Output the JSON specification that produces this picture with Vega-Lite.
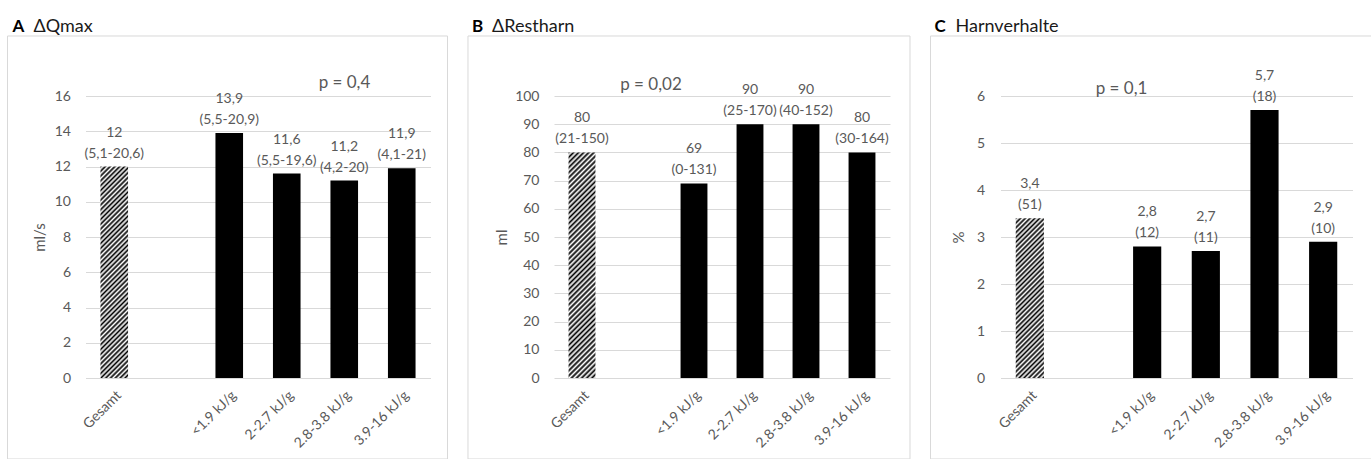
{
"$schema": "https://vega.github.io/schema/vega-lite/v6.json",
"padding": {"left": 6.5, "top": 17, "right": 0, "bottom": 0},
"spacing": 18.5,
"config": {
 "font": "Lato",
 "view": {"stroke": null},
 "axis": {"labelFont": "Lato", "titleFont": "Lato", "labelColor": "#595959", "titleColor": "#595959", "labelFontSize": 14, "titleFontSize": 15, "titleFontWeight": "normal", "domain": false, "ticks": false, "tickSize": 0, "gridColor": "#d9d9d9"}
},
"hconcat": [
{
 "width": 345, "height": 282,
 "resolve": {"scale": {"x": "independent", "y": "independent"}},
 "layer": [
  {
   "data": {"values": [{"letter": "A", "title": "ΔQmax", "p": "p = 0,4"}]},
   "layer": [
    {"mark": {"type": "rect", "fill": "transparent", "stroke": "#d9d9d9", "strokeWidth": 1},
     "encoding": {"x": {"datum": -0.2261, "type": "quantitative", "scale": {"domain": [0, 1], "nice": false, "zero": false}, "axis": null}, "x2": {"datum": 1.0493}, "y": {"datum": -0.2872, "type": "quantitative", "scale": {"domain": [0, 1], "nice": false, "zero": false}, "axis": null}, "y2": {"datum": 1.2128}}},
    {"mark": {"type": "text", "align": "left", "baseline": "alphabetic", "fontWeight": "bold", "fontSize": 17, "color": "#000"},
     "encoding": {"x": {"datum": -0.2116, "type": "quantitative"}, "y": {"datum": 1.228, "type": "quantitative"}, "text": {"field": "letter"}}},
    {"mark": {"type": "text", "align": "left", "baseline": "alphabetic", "fontSize": 18, "color": "#1a1a1a"},
     "encoding": {"x": {"datum": -0.1507, "type": "quantitative"}, "y": {"datum": 1.228, "type": "quantitative"}, "text": {"field": "title"}}},
    {"mark": {"type": "text", "align": "center", "baseline": "middle", "fontSize": 17, "color": "#595959"},
     "encoding": {"x": {"datum": 0.7507, "type": "quantitative"}, "y": {"datum": 1.046, "type": "quantitative"}, "text": {"field": "p"}}}
   ]
  },
  {
   "data": {"values": [
    {"cat": "Gesamt", "v": 12, "lab": "12\n(5,1-20,6)"},
    {"cat": "<1.9 kJ/g", "v": 13.9, "lab": "13,9\n(5,5-20,9)"},
    {"cat": "2-2.7 kJ/g", "v": 11.6, "lab": "11,6\n(5,5-19,6)"},
    {"cat": "2.8-3.8 kJ/g", "v": 11.2, "lab": "11,2\n(4,2-20)"},
    {"cat": "3.9-16 kJ/g", "v": 11.9, "lab": "11,9\n(4,1-21)"}
   ]},
   "encoding": {
    "x": {"field": "cat", "type": "nominal", "sort": null, "scale": {"domain": ["Gesamt", " ", "<1.9 kJ/g", "2-2.7 kJ/g", "2.8-3.8 kJ/g", "3.9-16 kJ/g"], "paddingInner": 0.52, "paddingOuter": 0.26}, "axis": {"orient": "bottom", "title": null, "labelAngle": -45, "grid": false, "labelPadding": 10}},
    "y": {"field": "v", "type": "quantitative", "scale": {"domain": [0, 16], "nice": false}, "axis": {"orient": "left", "values": [0, 2, 4, 6, 8, 10, 12, 14, 16], "grid": true, "title": "ml/s", "labelPadding": 15, "titlePadding": 7}}
   },
   "layer": [
    {"transform": [{"filter": "datum.cat === 'Gesamt'"}],
     "mark": {"type": "bar", "fill": {"gradient": "linear", "x1": 0, "y1": 0, "x2": 0.146, "y2": 1.12, "stops": [
{"offset":0,"color":"#000"},{"offset":0.01,"color":"#fff"},{"offset":0.02,"color":"#000"},{"offset":0.03,"color":"#fff"},{"offset":0.04,"color":"#000"},{"offset":0.05,"color":"#fff"},{"offset":0.06,"color":"#000"},{"offset":0.07,"color":"#fff"},{"offset":0.08,"color":"#000"},{"offset":0.09,"color":"#fff"},
{"offset":0.1,"color":"#000"},{"offset":0.11,"color":"#fff"},{"offset":0.12,"color":"#000"},{"offset":0.13,"color":"#fff"},{"offset":0.14,"color":"#000"},{"offset":0.15,"color":"#fff"},{"offset":0.16,"color":"#000"},{"offset":0.17,"color":"#fff"},{"offset":0.18,"color":"#000"},{"offset":0.19,"color":"#fff"},
{"offset":0.2,"color":"#000"},{"offset":0.21,"color":"#fff"},{"offset":0.22,"color":"#000"},{"offset":0.23,"color":"#fff"},{"offset":0.24,"color":"#000"},{"offset":0.25,"color":"#fff"},{"offset":0.26,"color":"#000"},{"offset":0.27,"color":"#fff"},{"offset":0.28,"color":"#000"},{"offset":0.29,"color":"#fff"},
{"offset":0.3,"color":"#000"},{"offset":0.31,"color":"#fff"},{"offset":0.32,"color":"#000"},{"offset":0.33,"color":"#fff"},{"offset":0.34,"color":"#000"},{"offset":0.35,"color":"#fff"},{"offset":0.36,"color":"#000"},{"offset":0.37,"color":"#fff"},{"offset":0.38,"color":"#000"},{"offset":0.39,"color":"#fff"},
{"offset":0.4,"color":"#000"},{"offset":0.41,"color":"#fff"},{"offset":0.42,"color":"#000"},{"offset":0.43,"color":"#fff"},{"offset":0.44,"color":"#000"},{"offset":0.45,"color":"#fff"},{"offset":0.46,"color":"#000"},{"offset":0.47,"color":"#fff"},{"offset":0.48,"color":"#000"},{"offset":0.49,"color":"#fff"},
{"offset":0.5,"color":"#000"},{"offset":0.51,"color":"#fff"},{"offset":0.52,"color":"#000"},{"offset":0.53,"color":"#fff"},{"offset":0.54,"color":"#000"},{"offset":0.55,"color":"#fff"},{"offset":0.56,"color":"#000"},{"offset":0.57,"color":"#fff"},{"offset":0.58,"color":"#000"},{"offset":0.59,"color":"#fff"},
{"offset":0.6,"color":"#000"},{"offset":0.61,"color":"#fff"},{"offset":0.62,"color":"#000"},{"offset":0.63,"color":"#fff"},{"offset":0.64,"color":"#000"},{"offset":0.65,"color":"#fff"},{"offset":0.66,"color":"#000"},{"offset":0.67,"color":"#fff"},{"offset":0.68,"color":"#000"},{"offset":0.69,"color":"#fff"},
{"offset":0.7,"color":"#000"},{"offset":0.71,"color":"#fff"},{"offset":0.72,"color":"#000"},{"offset":0.73,"color":"#fff"},{"offset":0.74,"color":"#000"},{"offset":0.75,"color":"#fff"},{"offset":0.76,"color":"#000"},{"offset":0.77,"color":"#fff"},{"offset":0.78,"color":"#000"},{"offset":0.79,"color":"#fff"},
{"offset":0.8,"color":"#000"},{"offset":0.81,"color":"#fff"},{"offset":0.82,"color":"#000"},{"offset":0.83,"color":"#fff"},{"offset":0.84,"color":"#000"},{"offset":0.85,"color":"#fff"},{"offset":0.86,"color":"#000"},{"offset":0.87,"color":"#fff"},{"offset":0.88,"color":"#000"},{"offset":0.89,"color":"#fff"},
{"offset":0.9,"color":"#000"},{"offset":0.91,"color":"#fff"},{"offset":0.92,"color":"#000"},{"offset":0.93,"color":"#fff"},{"offset":0.94,"color":"#000"},{"offset":0.95,"color":"#fff"},{"offset":0.96,"color":"#000"},{"offset":0.97,"color":"#fff"},{"offset":0.98,"color":"#000"},{"offset":0.99,"color":"#fff"},{"offset":1,"color":"#000"}
     ]}}},
    {"transform": [{"filter": "datum.cat !== 'Gesamt'"}], "mark": {"type": "bar", "color": "#000"}},
    {"mark": {"type": "text", "baseline": "bottom", "dy": -27, "lineBreak": "\n", "lineHeight": 21, "fontSize": 14, "color": "#595959"},
     "encoding": {"text": {"field": "lab"}}}
   ]
  }
 ]
},
{
 "width": 336, "height": 282,
 "resolve": {"scale": {"x": "independent", "y": "independent"}},
 "layer": [
  {
   "data": {"values": [{"letter": "B", "title": "ΔRestharn", "p": "p = 0,02"}]},
   "layer": [
    {"mark": {"type": "rect", "fill": "transparent", "stroke": "#d9d9d9", "strokeWidth": 1},
     "encoding": {"x": {"datum": -0.256, "type": "quantitative", "scale": {"domain": [0, 1], "nice": false, "zero": false}, "axis": null}, "x2": {"datum": 1.0595}, "y": {"datum": -0.2872, "type": "quantitative", "scale": {"domain": [0, 1], "nice": false, "zero": false}, "axis": null}, "y2": {"datum": 1.2128}}},
    {"mark": {"type": "text", "align": "left", "baseline": "alphabetic", "fontWeight": "bold", "fontSize": 17, "color": "#000"},
     "encoding": {"x": {"datum": -0.244, "type": "quantitative"}, "y": {"datum": 1.228, "type": "quantitative"}, "text": {"field": "letter"}}},
    {"mark": {"type": "text", "align": "left", "baseline": "alphabetic", "fontSize": 18, "color": "#1a1a1a"},
     "encoding": {"x": {"datum": -0.1845, "type": "quantitative"}, "y": {"datum": 1.228, "type": "quantitative"}, "text": {"field": "title"}}},
    {"mark": {"type": "text", "align": "center", "baseline": "middle", "fontSize": 17, "color": "#595959"},
     "encoding": {"x": {"datum": 0.2887, "type": "quantitative"}, "y": {"datum": 1.039, "type": "quantitative"}, "text": {"field": "p"}}}
   ]
  },
  {
   "data": {"values": [
    {"cat": "Gesamt", "v": 80, "lab": "80\n(21-150)"},
    {"cat": "<1.9 kJ/g", "v": 69, "lab": "69\n(0-131)"},
    {"cat": "2-2.7 kJ/g", "v": 90, "lab": "90\n(25-170)"},
    {"cat": "2.8-3.8 kJ/g", "v": 90, "lab": "90\n(40-152)"},
    {"cat": "3.9-16 kJ/g", "v": 80, "lab": "80\n(30-164)"}
   ]},
   "encoding": {
    "x": {"field": "cat", "type": "nominal", "sort": null, "scale": {"domain": ["Gesamt", " ", "<1.9 kJ/g", "2-2.7 kJ/g", "2.8-3.8 kJ/g", "3.9-16 kJ/g"], "paddingInner": 0.52, "paddingOuter": 0.26}, "axis": {"orient": "bottom", "title": null, "labelAngle": -45, "grid": false, "labelPadding": 10}},
    "y": {"field": "v", "type": "quantitative", "scale": {"domain": [0, 100], "nice": false}, "axis": {"orient": "left", "values": [0, 10, 20, 30, 40, 50, 60, 70, 80, 90, 100], "grid": true, "title": "ml", "labelPadding": 15, "titlePadding": 5}}
   },
   "layer": [
    {"transform": [{"filter": "datum.cat === 'Gesamt'"}],
     "mark": {"type": "bar", "fill": {"gradient": "linear", "x1": 0, "y1": 0, "x2": 0.132, "y2": 1.11, "stops": [
{"offset":0,"color":"#000"},{"offset":0.01,"color":"#fff"},{"offset":0.02,"color":"#000"},{"offset":0.03,"color":"#fff"},{"offset":0.04,"color":"#000"},{"offset":0.05,"color":"#fff"},{"offset":0.06,"color":"#000"},{"offset":0.07,"color":"#fff"},{"offset":0.08,"color":"#000"},{"offset":0.09,"color":"#fff"},
{"offset":0.1,"color":"#000"},{"offset":0.11,"color":"#fff"},{"offset":0.12,"color":"#000"},{"offset":0.13,"color":"#fff"},{"offset":0.14,"color":"#000"},{"offset":0.15,"color":"#fff"},{"offset":0.16,"color":"#000"},{"offset":0.17,"color":"#fff"},{"offset":0.18,"color":"#000"},{"offset":0.19,"color":"#fff"},
{"offset":0.2,"color":"#000"},{"offset":0.21,"color":"#fff"},{"offset":0.22,"color":"#000"},{"offset":0.23,"color":"#fff"},{"offset":0.24,"color":"#000"},{"offset":0.25,"color":"#fff"},{"offset":0.26,"color":"#000"},{"offset":0.27,"color":"#fff"},{"offset":0.28,"color":"#000"},{"offset":0.29,"color":"#fff"},
{"offset":0.3,"color":"#000"},{"offset":0.31,"color":"#fff"},{"offset":0.32,"color":"#000"},{"offset":0.33,"color":"#fff"},{"offset":0.34,"color":"#000"},{"offset":0.35,"color":"#fff"},{"offset":0.36,"color":"#000"},{"offset":0.37,"color":"#fff"},{"offset":0.38,"color":"#000"},{"offset":0.39,"color":"#fff"},
{"offset":0.4,"color":"#000"},{"offset":0.41,"color":"#fff"},{"offset":0.42,"color":"#000"},{"offset":0.43,"color":"#fff"},{"offset":0.44,"color":"#000"},{"offset":0.45,"color":"#fff"},{"offset":0.46,"color":"#000"},{"offset":0.47,"color":"#fff"},{"offset":0.48,"color":"#000"},{"offset":0.49,"color":"#fff"},
{"offset":0.5,"color":"#000"},{"offset":0.51,"color":"#fff"},{"offset":0.52,"color":"#000"},{"offset":0.53,"color":"#fff"},{"offset":0.54,"color":"#000"},{"offset":0.55,"color":"#fff"},{"offset":0.56,"color":"#000"},{"offset":0.57,"color":"#fff"},{"offset":0.58,"color":"#000"},{"offset":0.59,"color":"#fff"},
{"offset":0.6,"color":"#000"},{"offset":0.61,"color":"#fff"},{"offset":0.62,"color":"#000"},{"offset":0.63,"color":"#fff"},{"offset":0.64,"color":"#000"},{"offset":0.65,"color":"#fff"},{"offset":0.66,"color":"#000"},{"offset":0.67,"color":"#fff"},{"offset":0.68,"color":"#000"},{"offset":0.69,"color":"#fff"},
{"offset":0.7,"color":"#000"},{"offset":0.71,"color":"#fff"},{"offset":0.72,"color":"#000"},{"offset":0.73,"color":"#fff"},{"offset":0.74,"color":"#000"},{"offset":0.75,"color":"#fff"},{"offset":0.76,"color":"#000"},{"offset":0.77,"color":"#fff"},{"offset":0.78,"color":"#000"},{"offset":0.79,"color":"#fff"},
{"offset":0.8,"color":"#000"},{"offset":0.81,"color":"#fff"},{"offset":0.82,"color":"#000"},{"offset":0.83,"color":"#fff"},{"offset":0.84,"color":"#000"},{"offset":0.85,"color":"#fff"},{"offset":0.86,"color":"#000"},{"offset":0.87,"color":"#fff"},{"offset":0.88,"color":"#000"},{"offset":0.89,"color":"#fff"},
{"offset":0.9,"color":"#000"},{"offset":0.91,"color":"#fff"},{"offset":0.92,"color":"#000"},{"offset":0.93,"color":"#fff"},{"offset":0.94,"color":"#000"},{"offset":0.95,"color":"#fff"},{"offset":0.96,"color":"#000"},{"offset":0.97,"color":"#fff"},{"offset":0.98,"color":"#000"},{"offset":0.99,"color":"#fff"},{"offset":1,"color":"#000"}
     ]}}},
    {"transform": [{"filter": "datum.cat !== 'Gesamt'"}], "mark": {"type": "bar", "color": "#000"}},
    {"mark": {"type": "text", "baseline": "bottom", "dy": -27, "lineBreak": "\n", "lineHeight": 21, "fontSize": 14, "color": "#595959"},
     "encoding": {"text": {"field": "lab"}}}
   ]
  }
 ]
},
{
 "width": 352, "height": 282,
 "resolve": {"scale": {"x": "independent", "y": "independent"}},
 "layer": [
  {
   "data": {"values": [{"letter": "C", "title": "Harnverhalte", "p": "p = 0,1"}]},
   "layer": [
    {"mark": {"type": "rect", "fill": "transparent", "stroke": "#d9d9d9", "strokeWidth": 1},
     "encoding": {"x": {"datum": -0.1989, "type": "quantitative", "scale": {"domain": [0, 1], "nice": false, "zero": false}, "axis": null}, "x2": {"datum": 1.0568}, "y": {"datum": -0.2872, "type": "quantitative", "scale": {"domain": [0, 1], "nice": false, "zero": false}, "axis": null}, "y2": {"datum": 1.2128}}},
    {"mark": {"type": "text", "align": "left", "baseline": "alphabetic", "fontWeight": "bold", "fontSize": 17, "color": "#000"},
     "encoding": {"x": {"datum": -0.1875, "type": "quantitative"}, "y": {"datum": 1.228, "type": "quantitative"}, "text": {"field": "letter"}}},
    {"mark": {"type": "text", "align": "left", "baseline": "alphabetic", "fontSize": 18, "color": "#1a1a1a"},
     "encoding": {"x": {"datum": -0.1278, "type": "quantitative"}, "y": {"datum": 1.228, "type": "quantitative"}, "text": {"field": "title"}}},
    {"mark": {"type": "text", "align": "center", "baseline": "middle", "fontSize": 17, "color": "#595959"},
     "encoding": {"x": {"datum": 0.3438, "type": "quantitative"}, "y": {"datum": 1.0248, "type": "quantitative"}, "text": {"field": "p"}}}
   ]
  },
  {
   "data": {"values": [
    {"cat": "Gesamt", "v": 3.4, "lab": "3,4\n(51)"},
    {"cat": "<1.9 kJ/g", "v": 2.8, "lab": "2,8\n(12)"},
    {"cat": "2-2.7 kJ/g", "v": 2.7, "lab": "2,7\n(11)"},
    {"cat": "2.8-3.8 kJ/g", "v": 5.7, "lab": "5,7\n(18)"},
    {"cat": "3.9-16 kJ/g", "v": 2.9, "lab": "2,9\n(10)"}
   ]},
   "encoding": {
    "x": {"field": "cat", "type": "nominal", "sort": null, "scale": {"domain": ["Gesamt", " ", "<1.9 kJ/g", "2-2.7 kJ/g", "2.8-3.8 kJ/g", "3.9-16 kJ/g"], "paddingInner": 0.52, "paddingOuter": 0.26}, "axis": {"orient": "bottom", "title": null, "labelAngle": -45, "grid": false, "labelPadding": 10}},
    "y": {"field": "v", "type": "quantitative", "scale": {"domain": [0, 6], "nice": false}, "axis": {"orient": "left", "values": [0, 1, 2, 3, 4, 5, 6], "grid": true, "title": "%", "labelPadding": 16, "titlePadding": 10}}
   },
   "layer": [
    {"transform": [{"filter": "datum.cat === 'Gesamt'"}],
     "mark": {"type": "bar", "fill": {"gradient": "linear", "x1": 0, "y1": 0, "x2": 0.2056, "y2": 1.165, "stops": [
{"offset":0,"color":"#000"},{"offset":0.0125,"color":"#fff"},{"offset":0.025,"color":"#000"},{"offset":0.0375,"color":"#fff"},{"offset":0.05,"color":"#000"},{"offset":0.0625,"color":"#fff"},{"offset":0.075,"color":"#000"},{"offset":0.0875,"color":"#fff"},
{"offset":0.1,"color":"#000"},{"offset":0.1125,"color":"#fff"},{"offset":0.125,"color":"#000"},{"offset":0.1375,"color":"#fff"},{"offset":0.15,"color":"#000"},{"offset":0.1625,"color":"#fff"},{"offset":0.175,"color":"#000"},{"offset":0.1875,"color":"#fff"},
{"offset":0.2,"color":"#000"},{"offset":0.2125,"color":"#fff"},{"offset":0.225,"color":"#000"},{"offset":0.2375,"color":"#fff"},{"offset":0.25,"color":"#000"},{"offset":0.2625,"color":"#fff"},{"offset":0.275,"color":"#000"},{"offset":0.2875,"color":"#fff"},
{"offset":0.3,"color":"#000"},{"offset":0.3125,"color":"#fff"},{"offset":0.325,"color":"#000"},{"offset":0.3375,"color":"#fff"},{"offset":0.35,"color":"#000"},{"offset":0.3625,"color":"#fff"},{"offset":0.375,"color":"#000"},{"offset":0.3875,"color":"#fff"},
{"offset":0.4,"color":"#000"},{"offset":0.4125,"color":"#fff"},{"offset":0.425,"color":"#000"},{"offset":0.4375,"color":"#fff"},{"offset":0.45,"color":"#000"},{"offset":0.4625,"color":"#fff"},{"offset":0.475,"color":"#000"},{"offset":0.4875,"color":"#fff"},
{"offset":0.5,"color":"#000"},{"offset":0.5125,"color":"#fff"},{"offset":0.525,"color":"#000"},{"offset":0.5375,"color":"#fff"},{"offset":0.55,"color":"#000"},{"offset":0.5625,"color":"#fff"},{"offset":0.575,"color":"#000"},{"offset":0.5875,"color":"#fff"},
{"offset":0.6,"color":"#000"},{"offset":0.6125,"color":"#fff"},{"offset":0.625,"color":"#000"},{"offset":0.6375,"color":"#fff"},{"offset":0.65,"color":"#000"},{"offset":0.6625,"color":"#fff"},{"offset":0.675,"color":"#000"},{"offset":0.6875,"color":"#fff"},
{"offset":0.7,"color":"#000"},{"offset":0.7125,"color":"#fff"},{"offset":0.725,"color":"#000"},{"offset":0.7375,"color":"#fff"},{"offset":0.75,"color":"#000"},{"offset":0.7625,"color":"#fff"},{"offset":0.775,"color":"#000"},{"offset":0.7875,"color":"#fff"},
{"offset":0.8,"color":"#000"},{"offset":0.8125,"color":"#fff"},{"offset":0.825,"color":"#000"},{"offset":0.8375,"color":"#fff"},{"offset":0.85,"color":"#000"},{"offset":0.8625,"color":"#fff"},{"offset":0.875,"color":"#000"},{"offset":0.8875,"color":"#fff"},
{"offset":0.9,"color":"#000"},{"offset":0.9125,"color":"#fff"},{"offset":0.925,"color":"#000"},{"offset":0.9375,"color":"#fff"},{"offset":0.95,"color":"#000"},{"offset":0.9625,"color":"#fff"},{"offset":0.975,"color":"#000"},{"offset":0.9875,"color":"#fff"},{"offset":1,"color":"#000"}
     ]}}},
    {"transform": [{"filter": "datum.cat !== 'Gesamt'"}], "mark": {"type": "bar", "color": "#000"}},
    {"mark": {"type": "text", "baseline": "bottom", "dy": -27, "lineBreak": "\n", "lineHeight": 21, "fontSize": 14, "color": "#595959"},
     "encoding": {"text": {"field": "lab"}}}
   ]
  }
 ]
}
]
}
